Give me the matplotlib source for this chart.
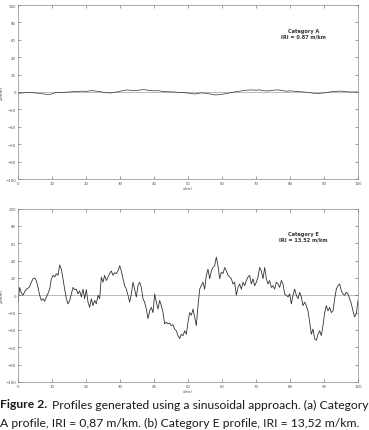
import numpy as np
import matplotlib
matplotlib.use("Agg")
import matplotlib.pyplot as plt

# Category A profile (mm), sampled every ~1 m from 0 to 100 m
z_a = [-1.5, -1.2, -0.8, -0.5, -0.7, -1.0, -1.5, -2.0, -2.5, -3.0,
       -2.2, -0.8, -0.5, -0.4, -0.2, 0.0, 0.3, 0.6, 0.8, 1.0,
       0.6, 1.2, 1.5, 1.0, 0.5, -0.2, -0.8, -1.2, -0.6, 0.0,
       0.8, 1.8, 2.3, 2.0, 1.6, 1.8, 2.4, 2.7, 2.2, 1.6,
       1.3, 1.6, 1.0, 0.6, 0.3, 0.1, 0.0, -0.3, -0.6, -0.9,
       -1.2, -1.8, -2.3, -1.6, -1.0, -1.4, -2.0, -2.6, -3.4, -3.0,
       -2.6, -2.0, -1.2, -0.4, 0.3, 0.8, 1.4, 2.0, 2.3, 2.4,
       2.0, 2.5, 1.6, 1.2, 1.4, 2.0, 2.4, 2.2, 1.4, 0.9,
       1.3, 1.0, 0.6, 0.3, 0.0, -0.4, -0.9, -1.4, -1.8, -1.5,
       -1.0, -0.4, 0.2, 0.6, 0.9, 1.0, 0.6, 0.2, 0.0, 0.1,
       0.0]

# Category E profile (mm), sampled every ~0.49 m from 0 to 100 m
z_e = [-8, 9, 3, 0, 4, 7, 8, 10, 15, 19,
       20, 17, 9, 0, -6, -4, -7, -2, 2, 7,
       19, 23, 21, 25, 23, 35, 30, 19, 7, -4,
       -10, -6, 1.5, 9, 6.5, 7, 1.5, 5, -2, 7,
       -4, 6.5, -8, -14, -4, -12, -6, -10, 0, -4,
       21, 15, 23, 17, 21, 25, 28, 23, 26, 25,
       28, 34, 28, 19, 11, 7, 0, -8, 1.5, 15,
       7, -2, 11, 15, 9, -4, -8, -16, -27, -18,
       -14, -20, 1.5, -8, -16, -6, -12, -20, -33, -31,
       -33, -32, -35, -34, -39, -41, -46.5, -50, -45, -46.5,
       -41, -45, -31, -20, -23, -16, -25, -35, -12, 7,
       11, 15, 7, 23, 30, 19, 28, 32, 34, 44,
       34, 19, 26.5, 25, 32, 28, 23, 21, 19, 13,
       15, 0, 9, 13, 7, 15, 11, 17, 21, 23,
       13, 19, 11, 15, 21, 32, 28, 19, 32, 19,
       13, 17, 9, 11, 7, 15, 13, 9, 17, 13,
       1.5, 0, -2, 1.5, -10, 0, 7, 0, -4, 3.5,
       -2, -12, -8, -12, -18, -31, -45, -39, -50, -52,
       -45, -41, -46.5, -35, -20, -12, -18, -14, -20, -18,
       -4, 7, 11, 13, 5, 1.5, 0, 3.5, 1.5, -4,
       -10, -18, -25, -21, -6]

labels_a = ["Category A", "IRI = 0.87 m/km"]
labels_e = ["Category E", "IRI = 13.52 m/km"]
yticks = [-100, -80, -60, -40, -20, 0, 20, 40, 60, 80, 100]
xticks = [0, 10, 20, 30, 40, 50, 60, 70, 80, 90, 100]

x_a = np.linspace(0, 100, len(z_a))
x_e = np.linspace(0, 100, len(z_e))

W, H = 369, 431
fig = plt.figure(figsize=(W / 100, H / 100), dpi=100)

def make_ax(rect, x, z, labels, lw):
    ax = fig.add_axes(rect)
    ax.axhline(0, color="#b0b0b0", lw=0.6, zorder=1)
    ax.plot(x, z, color="#333333", lw=lw, zorder=2)
    ax.set_xlim(0, 100)
    ax.set_ylim(-100, 100)
    ax.set_xticks(xticks)
    ax.set_yticks(yticks)
    ax.tick_params(direction="in", length=2, width=0.4, labelsize=2.8,
                   top=True, right=True, pad=1.5, colors="#555555")
    for s in ax.spines.values():
        s.set_linewidth(0.5)
        s.set_color("#888888")
    ax.set_xlabel("x(m)", fontsize=3, labelpad=1, color="#444444")
    ax.set_ylabel("Z(mm)", fontsize=3, labelpad=1, color="#444444")
    ax.text(84, 71, labels[0], ha="center", va="center", fontsize=3.6,
            fontweight="bold", color="#333333")
    ax.text(84, 64.5, labels[1], ha="center", va="center", fontsize=3.6,
            fontweight="bold", color="#333333")
    return ax

make_ax([18 / W, 1 - 180 / H, 340 / W, 174 / H], x_a, z_a, labels_a, 0.5)
make_ax([18 / W, 1 - 383 / H, 340 / W, 173.5 / H], x_e, z_e, labels_e, 0.6)

cap_font = "Lato"
fs = 8.7
y1 = 1 - 405 / H
y2 = 1 - 423 / H
t = fig.text(0.0, y1, "Figure 2.", fontsize=fs, fontweight="bold",
             family=cap_font, va="center", ha="left", color="#1a1a1a")
fig.canvas.draw()
bb = t.get_window_extent()
fig.text(bb.x1 / W + 0.014, y1,
         "Profiles generated using a sinusoidal approach. (a) Category",
         fontsize=fs, family=cap_font, va="center", ha="left", color="#1a1a1a")
fig.text(0.0, y2,
         "A profile, IRI = 0,87 m/km. (b) Category E profile, IRI = 13,52 m/km.",
         fontsize=fs, family=cap_font, va="center", ha="left", color="#1a1a1a")

fig.savefig("out.png", dpi=100)
